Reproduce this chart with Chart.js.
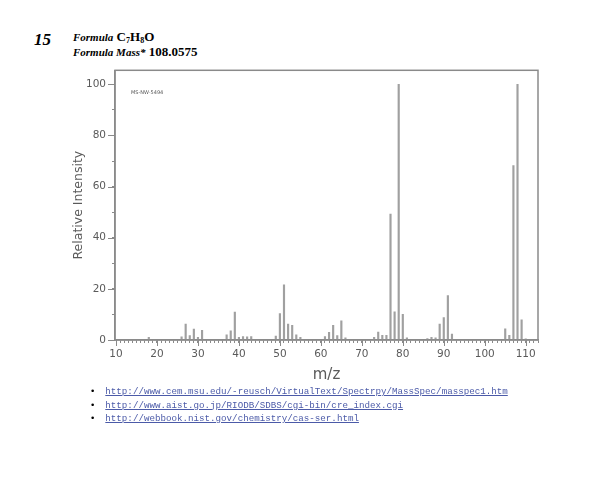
<!DOCTYPE html>
<html lang="en">
<head>
<meta charset="UTF-8">
<title>Mass spectrum C7H8O</title>
<style>
    body, html {
        margin: 0;
        padding: 0;
        background: #fff;
        width: 598px;
        height: 490px;
        overflow: hidden;
    }
    #num {
        position: absolute; left: 34px; top: 30px;
        font: italic bold 17px "Liberation Serif", serif;
    }
    .fline {
        position: absolute; left: 73px;
        font: 13px "Liberation Serif", serif;
        font-weight: bold;
        white-space: nowrap;
    }
    .fline i { font-size: 11px; }
    .fline sub { font-size: 8px; vertical-align: -2px; }
    #chartBox {
        position: absolute; left: 50px; top: 58px;
        width: 510px; height: 332px;
    }
    #links {
        position: absolute; left: 90px; top: 386px;
        margin: 0; padding: 0; list-style: none;
        font: 9.2px "Liberation Mono", monospace;
    }
    #links li { height: 13.5px; white-space: nowrap; }
    #links li::before { content: "\2022"; color: #000; font: 9px "DejaVu Sans"; margin-right: 10px; }
    #links a { color: #4b5aa8; text-decoration: underline; }
</style>
</head>
<body>

<div id="num">15</div>
<div class="fline" style="top:29px"><i>Formula</i> C<sub>7</sub>H<sub>8</sub>O</div>
<div class="fline" style="top:44px"><i>Formula Mass*</i> 108.0575</div>

<div id="chartBox"><canvas id="spec"></canvas></div>

<ul id="links">
    <li><a>http://www.cem.msu.edu/-reusch/VirtualText/Spectrpy/MassSpec/masspec1.htm</a></li>
    <li><a>http://www.aist.go.jp/RIODB/SDBS/cgi-bin/cre_index.cgi</a></li>
    <li><a>http://webbook.nist.gov/chemistry/cas-ser.html</a></li>
</ul>

<script src="https://cdn.jsdelivr.net/npm/chart.js"></script>
<script>
    // peak list
    const masses = [18, 26, 27, 28, 29, 30, 31, 37, 38, 39, 40, 41, 42, 43, 49, 50, 51, 52, 53, 54, 55,
                    61, 62, 63, 64, 65, 66, 73, 74, 75, 76, 77, 78, 79, 80, 81, 86, 87, 88, 89, 90, 91, 92,
                    105, 106, 107, 108, 109, 110];
    const intensities = [1.0, 1.2, 6.2, 1.7, 4.3, 1.0, 3.8, 2.0, 3.6, 10.9, 1.0, 1.3, 1.2, 1.3, 1.5, 10.3, 21.6, 6.2, 5.7, 2.0, 1.0,
                         1.3, 3.0, 5.7, 1.7, 7.5, 0.8, 1.0, 3.1, 1.8, 1.8, 49.3, 11.0, 100, 10.0, 0.8, 0.6, 1.0, 0.8, 6.2, 8.8, 17.4, 2.3,
                         4.4, 1.8, 68.2, 100, 7.9, 0.5];
    const xLabelEvery = 10;
    const yLabelEvery = 20;
    const spectrumId = 'MS-NW-5494';

    const axisGray = '#8a8a8a';
    const textGray = '#5a5a5a';

    // frame, longer major ticks and the id label
    const framePlugin = {
        id: 'frame',
        afterDraw(chart) {
            const ctx = chart.ctx;
            const a = chart.chartArea;
            const xs = chart.scales.x, ys = chart.scales.y;
            ctx.save();
            ctx.strokeStyle = axisGray;
            ctx.lineWidth = 1.5;
            ctx.strokeRect(a.left, a.top, a.right - a.left, a.bottom - a.top);
            ctx.lineWidth = 1;
            ctx.beginPath();
            for (let v = 10; v <= 110; v += xLabelEvery) {
                const px = Math.round(xs.getPixelForValue(v)) + 0.5;
                ctx.moveTo(px, a.bottom);
                ctx.lineTo(px, a.bottom + 6);
            }
            for (let v = 0; v <= 100; v += yLabelEvery) {
                const py = Math.round(ys.getPixelForValue(v)) + 0.5;
                ctx.moveTo(a.left, py);
                ctx.lineTo(a.left - 7, py);
            }
            ctx.stroke();
            ctx.fillStyle = '#555';
            ctx.font = '5px "DejaVu Sans"';
            ctx.textBaseline = 'middle';
            ctx.fillText(spectrumId, a.left + 16, a.top + 22);
            ctx.restore();
        }
    };

    new Chart(document.getElementById('spec'), {
        type: 'bar',
        data: {
            datasets: [{
                data: masses.map((m, i) => ({ x: m, y: intensities[i] })),
                backgroundColor: '#a0a0a0',
                borderWidth: 0,
                barThickness: 1.5
            }]
        },
        options: {
            responsive: true,
            maintainAspectRatio: false,
            animation: false,
            layout: { padding: { top: 6, right: 22, left: 0, bottom: 0 } },
            plugins: {
                legend: { display: false },
                tooltip: { enabled: false }
            },
            scales: {
                x: {
                    type: 'linear',
                    min: 9.75,
                    max: 113,
                    offset: false,
                    afterFit: s => { s.height = 50; },
                    grid: { drawOnChartArea: false, offset: false, tickLength: 3, color: axisGray },
                    border: { color: axisGray, width: 1.5 },
                    ticks: {
                        stepSize: 1,
                        autoSkip: false,
                        includeBounds: false,
                        maxRotation: 0,
                        padding: 5,
                        color: textGray,
                        font: { family: 'DejaVu Sans', size: 10.5 },
                        callback: v => (v % xLabelEvery === 0 ? v : '')
                    },
                    title: {
                        display: true,
                        text: 'm/z',
                        color: textGray,
                        font: { family: 'DejaVu Sans', size: 15 },
                        padding: { top: 0, bottom: 6 }
                    }
                },
                y: {
                    min: 0,
                    max: 105.5,
                    afterFit: s => { s.width = 65; },
                    grid: { drawOnChartArea: false, tickLength: 3, color: axisGray },
                    border: { color: axisGray, width: 1.5 },
                    ticks: {
                        stepSize: 10,
                        autoSkip: false,
                        includeBounds: false,
                        padding: 6,
                        color: textGray,
                        font: { family: 'DejaVu Sans', size: 10.5 },
                        callback: v => (v % yLabelEvery === 0 ? v : '')
                    },
                    title: {
                        display: true,
                        text: 'Relative Intensity',
                        color: textGray,
                        font: { family: 'DejaVu Sans', size: 12.5 },
                        padding: { top: 21, bottom: 0 }
                    }
                }
            }
        },
        plugins: [framePlugin]
    });
</script>
</body>
</html>
